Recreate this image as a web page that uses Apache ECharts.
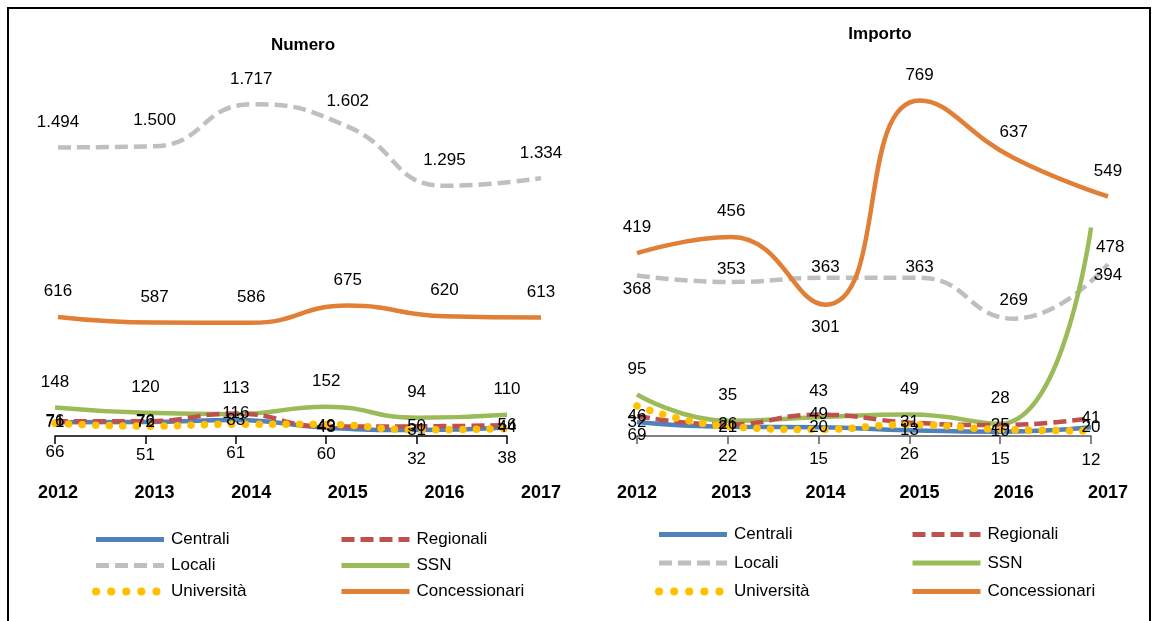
<!DOCTYPE html>
<html>
<head>
<meta charset="utf-8">
<script src="https://cdn.jsdelivr.net/npm/echarts@6/dist/echarts.min.js"></script>
<style>
  html, body { margin: 0; padding: 0; background: #fff; }
  #chart { width: 1158px; height: 621px; }
</style>
</head>
<body>
<div id="chart"></div>
<script>
// anni
const years = ['2012', '2013', '2014', '2015', '2016', '2017'];

// Numero
const numCentrali = [71, 72, 83, 43, 31, 44];
const numRegionali = [76, 76, 116, 49, 50, 56];
const numLocali = [1494, 1500, 1717, 1602, 1295, 1334];
const numSSN = [148, 120, 113, 152, 94, 110];
const numUniversita = [66, 51, 61, 60, 32, 38];
const numConcessionari = [616, 587, 586, 675, 620, 613];

// Importo
const impCentrali = [32, 21, 20, 13, 10, 20];
const impRegionali = [46, 26, 49, 31, 25, 41];
const impLocali = [368, 353, 363, 363, 269, 394];
const impSSN = [95, 35, 43, 49, 28, 478];
const impUniversita = [69, 22, 15, 26, 15, 12];
const impConcessionari = [419, 456, 301, 769, 637, 549];

const labelFont = '"Liberation Sans Narrow", "Liberation Sans", Arial, sans-serif';
const textFont = '"Liberation Sans", Arial, sans-serif';

const colors = {
  Centrali: '#4F81BD',
  Regionali: '#C0504D',
  Locali: '#BFBFBF',
  SSN: '#9BBB59',
  'Università': '#FFC000',
  Concessionari: '#E07F35'
};

const lineStyles = {
  Centrali: { width: 4.5 },
  Regionali: { width: 4.5, type: [13, 6] },
  Locali: { width: 4.5, type: [13, 6] },
  SSN: { width: 4.5 },
  'Università': { width: 7.5, type: [0.1, 13.5], cap: 'round' },
  Concessionari: { width: 4.5 }
};

const labelPos = {
  Centrali: { position: 'inside' },
  Regionali: { position: 'inside' },
  Locali: { position: 'top', distance: 17 },
  SSN: { position: 'top', distance: 17 },
  'Università': { position: 'bottom', distance: 21 },
  Concessionari: { position: 'top', distance: 17 }
};

function mkSeries(name, values, xIdx, overrides) {
  return {
    name: name,
    type: 'line',
    xAxisIndex: xIdx,
    yAxisIndex: xIdx,
    smooth: 0.5,
    symbol: 'circle',
    symbolSize: 0,
    itemStyle: { color: colors[name] },
    lineStyle: Object.assign({ color: colors[name] }, lineStyles[name]),
    label: Object.assign({
      show: true,
      color: '#000',
      fontSize: 17,
      fontFamily: labelFont,
      formatter: p => p.value.toLocaleString('it-IT')
    }, labelPos[name]),
    data: values.map((v, i) => (overrides && overrides[i]) ? { value: v, label: overrides[i] } : v),
    animation: false
  };
}

// griglie: 0 = Numero alto, 1 = Numero basso, 2 = Importo alto, 3 = Importo basso
const grids = [
  { left: 58, width: 483, top: 69, height: 367 },
  { left: 55, width: 452, top: 69, height: 367 },
  { left: 637, width: 471, top: 87, height: 349 },
  { left: 637, width: 454, top: 87, height: 349 }
];
const yMax = [1900, 1900, 800, 800];

const xAxes = grids.map((g, i) => {
  const upper = i % 2 === 0;
  return {
    type: 'category',
    gridIndex: i,
    data: years,
    boundaryGap: false,
    axisLine: { show: !upper, lineStyle: { color: i < 2 ? '#000' : '#595959', width: 1.5 } },
    axisTick: { show: !upper, length: 8, lineStyle: { color: i < 2 ? '#000' : '#595959', width: 1.5 } },
    axisLabel: {
      show: upper,
      margin: 48,
      fontSize: 18,
      fontWeight: 'bold',
      color: '#000',
      fontFamily: textFont
    },
    splitLine: { show: false }
  };
});

const yAxes = grids.map((g, i) => ({
  type: 'value',
  gridIndex: i,
  min: 0,
  max: yMax[i],
  show: false
}));

const series = [
  mkSeries('Locali', numLocali, 0),
  mkSeries('Concessionari', numConcessionari, 0),
  mkSeries('SSN', numSSN, 1),
  mkSeries('Centrali', numCentrali, 1),
  mkSeries('Regionali', numRegionali, 1),
  mkSeries('Università', numUniversita, 1),

  mkSeries('Locali', impLocali, 2, {
    0: { position: 'bottom', distance: 5 },
    1: { position: 'top', distance: 4 },
    2: { position: 'top', distance: 2 },
    3: { position: 'top', distance: 2 },
    4: { position: 'top', distance: 10 },
    5: { position: 'bottom', distance: 3 }
  }),
  mkSeries('Concessionari', impConcessionari, 2, {
    2: { position: 'bottom', distance: 14 }
  }),
  mkSeries('SSN', impSSN, 3, {
    5: { position: 'right', distance: 5, offset: [0, 20] }
  }),
  mkSeries('Centrali', impCentrali, 3),
  mkSeries('Regionali', impRegionali, 3),
  mkSeries('Università', impUniversita, 3)
];

function mkLegend(left, top, gap, names) {
  return {
    orient: 'vertical',
    left: left,
    top: top,
    padding: 0,
    itemWidth: 68,
    itemHeight: 14,
    itemGap: gap,
    selectedMode: false,
    itemStyle: { opacity: 0 },
    lineStyle: { width: 5 },
    textStyle: { fontSize: 17, color: '#000', fontFamily: textFont, padding: [0, 0, 0, 2] },
    data: names.map(n => n === 'Università'
      ? { name: n, lineStyle: { width: 8, type: [0.1, 15], cap: 'round' } }
      : { name: n })
  };
}

const chart = echarts.init(document.getElementById('chart'), null, { renderer: 'canvas' });
chart.setOption({
  backgroundColor: '#fff',
  animation: false,
  title: [
    { text: 'Numero', left: 298, top: 32, textAlign: 'center',
      textStyle: { fontSize: 17, fontWeight: 'bold', color: '#000', fontFamily: textFont } },
    { text: 'Importo', left: 875, top: 21, textAlign: 'center',
      textStyle: { fontSize: 17, fontWeight: 'bold', color: '#000', fontFamily: textFont } }
  ],
  grid: grids,
  xAxis: xAxes,
  yAxis: yAxes,
  legend: [
    mkLegend(92, 531, 9, ['Centrali', 'Locali', 'Università']),
    mkLegend(339, 531, 9, ['Regionali', 'SSN', 'Concessionari']),
    mkLegend(655, 526, 11.5, ['Centrali', 'Locali', 'Università']),
    mkLegend(910, 526, 11.5, ['Regionali', 'SSN', 'Concessionari'])
  ],
  series: series,
  graphic: [
    { type: 'rect', shape: { x: 8, y: 8, width: 1142, height: 640 },
      style: { fill: 'none', stroke: '#000', lineWidth: 2 }, silent: true }
  ]
});
</script>
</body>
</html>
